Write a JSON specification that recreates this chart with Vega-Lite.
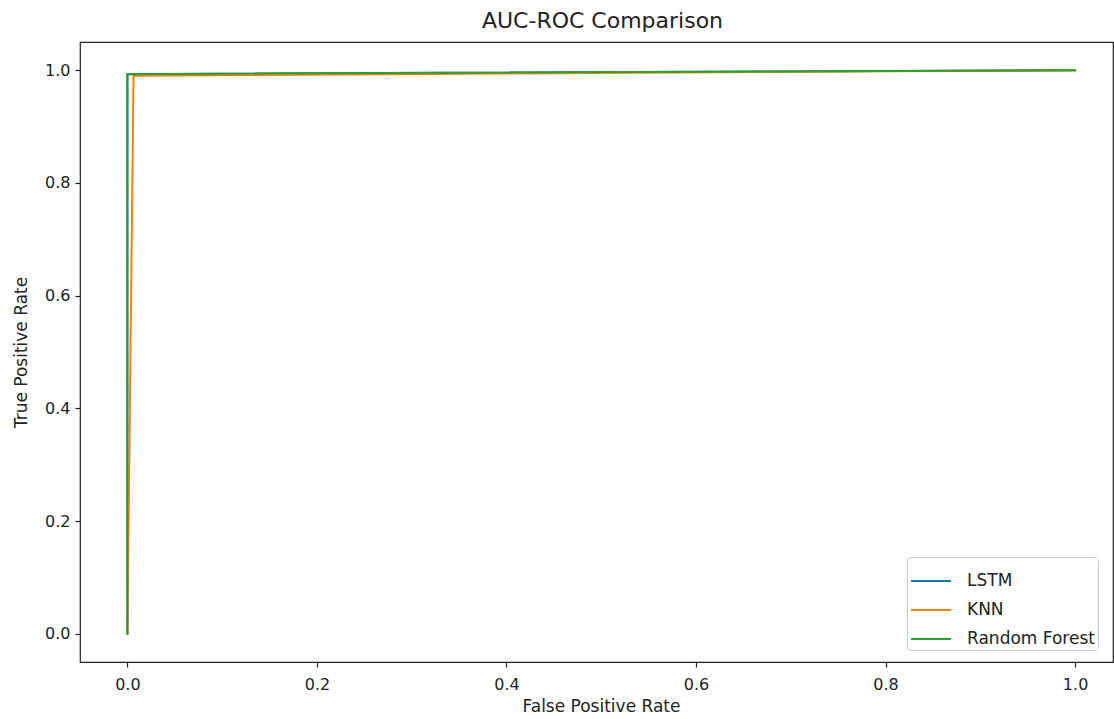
{
  "$schema": "https://vega.github.io/schema/vega-lite/v6.json",
  "autosize": {"type": "none"},
  "padding": {"left": 80, "top": 42, "right": 1, "bottom": 57},
  "width": 1033,
  "height": 620,
  "background": "white",
  "title": {"text": "AUC-ROC Comparison", "fontSize": 22, "fontWeight": "normal", "font": "DejaVu Sans", "color": "#222", "offset": 9, "dx": 6},
  "config": {
    "view": {"stroke": "#222", "strokeWidth": 1.2},
    "axis": {"grid": false, "domain": false, "labelFont": "DejaVu Sans", "titleFont": "DejaVu Sans", "labelFontSize": 16, "titleFontSize": 17, "tickColor": "#222", "labelColor": "#222", "titleColor": "#222", "titleFontWeight": "normal", "tickSize": 5, "tickWidth": 1.2}
  },
  "data": {"values": [
    {"model": "LSTM", "step": 0, "fpr": 0.0, "tpr": 0.0},
    {"model": "LSTM", "step": 1, "fpr": 0.0, "tpr": 0.993},
    {"model": "LSTM", "step": 2, "fpr": 1.0, "tpr": 1.0},
    {"model": "KNN", "step": 0, "fpr": 0.0, "tpr": 0.0},
    {"model": "KNN", "step": 1, "fpr": 0.0065, "tpr": 0.99},
    {"model": "KNN", "step": 2, "fpr": 1.0, "tpr": 1.0},
    {"model": "Random Forest", "step": 0, "fpr": 0.0, "tpr": 0.0},
    {"model": "Random Forest", "step": 1, "fpr": 0.0, "tpr": 0.993},
    {"model": "Random Forest", "step": 2, "fpr": 1.0, "tpr": 1.0}
  ]},
  "mark": {"type": "line", "strokeWidth": 2, "strokeCap": "square"},
  "encoding": {
    "x": {"field": "fpr", "type": "quantitative", "scale": {"domain": [-0.05, 1.04], "nice": false, "zero": false},
      "axis": {"values": [0, 0.2, 0.4, 0.6, 0.8, 1.0], "format": ".1f", "title": "False Positive Rate", "labelPadding": 9, "titlePadding": 6, "titleX": 521}},
    "y": {"field": "tpr", "type": "quantitative", "scale": {"domain": [-0.05, 1.05], "nice": false, "zero": false},
      "axis": {"values": [0, 0.2, 0.4, 0.6, 0.8, 1.0], "format": ".1f", "title": "True Positive Rate", "labelPadding": 5, "titlePadding": 14}},
    "color": {"field": "model", "type": "nominal", "scale": {"domain": ["LSTM", "KNN", "Random Forest"], "range": ["#1f77b4", "#ff7f0e", "#2ca02c"]},
      "legend": {"title": null, "orient": "none", "legendX": 827, "legendY": 515, "symbolType": "stroke", "symbolSize": 1600, "symbolStrokeWidth": 2, "labelFont": "DejaVu Sans", "labelFontSize": 17, "labelColor": "#222", "labelOffset": 15, "rowPadding": -2, "padding": 3, "strokeColor": "#ccc", "fillColor": "rgba(255,255,255,0.8)", "cornerRadius": 3}},
    "order": {"field": "step"}
  }
}
